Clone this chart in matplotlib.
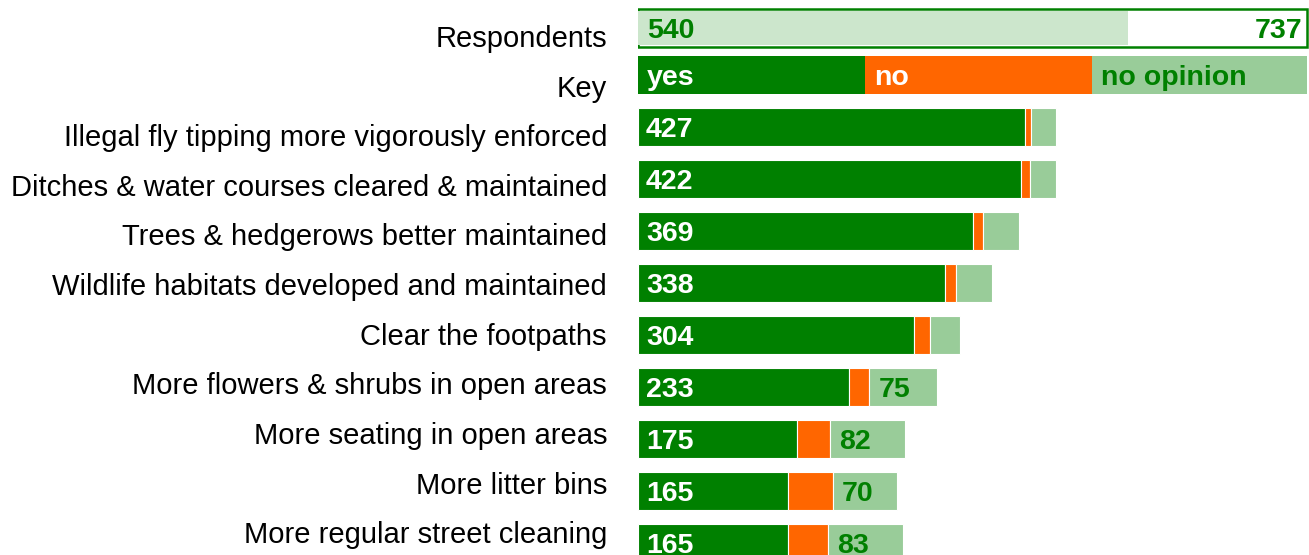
import numpy as np
import matplotlib
matplotlib.use("Agg")
from matplotlib import pyplot as plt

GREEN = "#008000"
ORANGE = "#ff6600"
LIGHT = "#99cc99"
PALE = "#cce6cc"

# survey rows
labels = ["Illegal fly tipping more vigorously enforced",
          "Ditches & water courses cleared & maintained",
          "Trees & hedgerows better maintained",
          "Wildlife habitats developed and maintained",
          "Clear the footpaths",
          "More flowers & shrubs in open areas",
          "More seating in open areas",
          "More litter bins",
          "More regular street cleaning"]
yes = [427, 422, 369, 338, 304, 233, 175, 165, 165]
no = [6, 10, 11, 12, 18, 22, 37, 50, 44]
no_opinion = [28, 29, 40, 40, 33, 75, 82, 70, 83]
show_no_opinion = [False, False, False, False, False, True, True, True, True]

respondents = 540
invited = 737
key_names = ["yes", "no", "no opinion"]
key_widths = [250, 250, 237]

plt.rcParams['font.family'] = ['Liberation Sans', 'DejaVu Sans']

W, H = 1309, 555
fig = plt.figure(figsize=(W / 100, H / 100), dpi=100)

# label column has its own (slightly tighter) row spacing
ax_lab = fig.add_axes([0, 0, 607 / W, 1])
ax_lab.set_axis_off()
ax_lab.set_xlim(0, 1)
ax_lab.set_ylim(10.46, -0.726)
row_names = ["Respondents", "Key"] + labels
for i, name in enumerate(row_names):
    ax_lab.text(1, i, name, ha="right", va="center_baseline", fontsize=21)

ax = fig.add_axes([638 / W, 0, 671 / W, 1])
h = 0.73
n = len(labels)
ypos = np.arange(n) + 2
resp_y = 0.1
key_y = 1

num_kw = dict(textcoords="offset pixels", va="center_baseline", ha="left",
              fontsize=20.5, fontweight="bold")

# respondents row
ax.barh(resp_y, invited, height=h, color="white", edgecolor=GREEN, linewidth=1.8)
ax.barh(resp_y, respondents, height=h * 0.88, color=PALE, linewidth=0)
ax.annotate(str(respondents), (0, resp_y), xytext=(9, 0), color=GREEN, **num_kw)
ax.annotate(str(invited), (invited, resp_y), xytext=(-4, 0), color=GREEN,
            **{**num_kw, "ha": "right"})

# key row
key_colors = [GREEN, ORANGE, LIGHT]
key_text = ["white", "white", GREEN]
left = 0
for name, w, c, tc in zip(key_names, key_widths, key_colors, key_text):
    ax.barh(key_y, w, left=left, height=h, color=c, linewidth=0)
    ax.annotate(name, (left, key_y), xytext=(9, 0), color=tc, **num_kw)
    left += w

# answers
yes = np.array(yes)
no = np.array(no)
no_opinion = np.array(no_opinion)
ax.barh(ypos, yes, height=h, color=GREEN, edgecolor="white", linewidth=0.8)
ax.barh(ypos, no, left=yes, height=h, color=ORANGE, edgecolor="white", linewidth=0.8)
ax.barh(ypos, no_opinion, left=yes + no, height=h, color=LIGHT, edgecolor="white", linewidth=0.8)
for i in range(n):
    ax.annotate(str(yes[i]), (0, ypos[i]), xytext=(8, 0), color="white", **num_kw)
    if show_no_opinion[i]:
        ax.annotate(str(no_opinion[i]), (yes[i] + no[i], ypos[i]), xytext=(9, 0),
                    color=GREEN, **num_kw)

ax.set_axis_off()
ax.set_xlim(0, 739.5)
ax.set_ylim(10.23, -0.442)

fig.savefig("out.png", dpi=100)
